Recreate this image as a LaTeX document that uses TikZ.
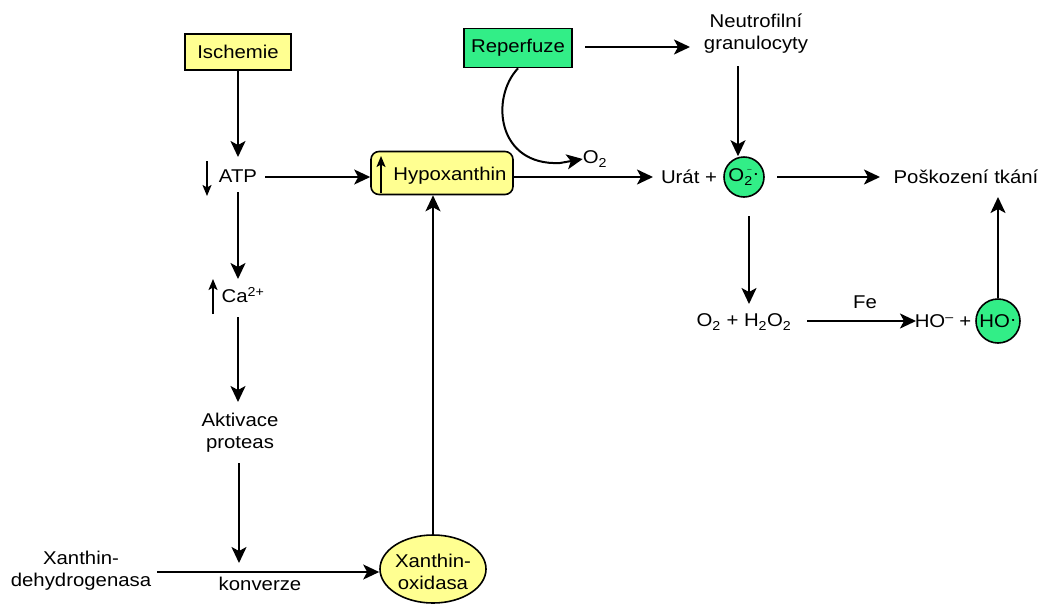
\documentclass[tikz,border=0pt]{standalone}
\usepackage{fontspec}
\setmainfont[FakeStretch=1.1]{Liberation Sans}
\usetikzlibrary{arrows.meta,shapes.geometric}
\definecolor{ylw}{RGB}{255,255,145}
\definecolor{grn}{RGB}{50,238,135}
\begin{document}
\begin{tikzpicture}[x=1pt,y=-1pt,
  every node/.style={font=\fontsize{18.5}{22}\selectfont, inner sep=0pt, align=center},
  arr/.style={line width=2pt, -{Stealth[length=16pt,width=15pt,inset=4pt]}},
  updown/.style={line width=1.6pt, -{Stealth[length=11pt,width=9pt,inset=2.5pt]}},
  ybox/.style={draw, line width=1.6pt, fill=ylw},
  gbox/.style={draw, line width=1.6pt, fill=grn},
  gcirc/.style={draw, circle, line width=1.6pt, fill=grn, minimum size=40pt}]
\useasboundingbox (0,0) rectangle (1046,603);
% nodes
\node[ybox, minimum width=106pt, minimum height=36pt] (isch) at (238,52) {Ischemie};
\node[gbox, minimum width=108pt, minimum height=39pt] (reper) at (518,48) {Reperfuze};
\node (neut) at (756,34) {Neutrofilní\\granulocyty};
\node (atp) at (238,176) {ATP};
\node[ybox, rounded corners=8pt, minimum width=142pt, minimum height=43pt] (hypo) at (442,173) {};
\node (hypot) at (450,176) {Hypoxanthin};
\node (o2) at (595,159) {O\textsubscript{2}};
\node (urat) at (689,177) {Urát +};
\node[gcirc] (o2m) at (744,177) {O\rlap{\raisebox{1.05ex}{\,\scriptsize –}}\textsubscript{2}\raisebox{0.2ex}{·}};
\node (pos) at (966,177) {Poškození tkání};
\node (ca) at (243,295) {Ca\textsuperscript{2+}};
\node (akt) at (240,433) {Aktivace\\proteas};
\node (xdh) at (81,571) {Xanthin-\\dehydrogenasa};
\node (konv) at (260,584) {konverze};
\node[draw, ellipse, line width=1.6pt, fill=ylw, minimum width=106pt, minimum height=68pt] (xo) at (433,569) {};
\node at (433,572) {Xanthin-\\oxidasa};
\node (h2o2) at (744,322) {O\textsubscript{2} + H\textsubscript{2}O\textsubscript{2}};
\node (fe) at (865,302) {Fe};
\node (hom) at (943,321) {HO\textsuperscript{–} +};
\node[gcirc, minimum size=44pt] (hoc) at (998,321) {HO\raisebox{0.2ex}{·}};
% small up/down markers
\coordinate (atpA) at (207,161);
\coordinate (atpB) at (207,196);
\draw[updown] (atpA) -- (atpB);
\coordinate (hypA) at (381,193);
\coordinate (hypB) at (381,156);
\draw[updown] (hypA) -- (hypB);
\coordinate (caA) at (213,314);
\coordinate (caB) at (213,279);
\draw[updown] (caA) -- (caB);
% connectors
\draw[arr] (isch.south) -- (isch.south |- 0,157);
\draw[arr] (265,177) -- (hypo.west |- 0,177);
\draw[arr] (hypo.east |- 0,177) -- (653,177);
\draw[arr] (238,192) -- (238,279);
\draw[arr] (238,317) -- (238,402);
\coordinate (kv) at (239,563);
\draw[arr] (239,463) -- (kv);
\draw[arr] (157,572) -- (xo.west |- 0,572);
\draw[arr] (xo.north) -- (xo.north |- hypo.south);
\draw[arr] (585,47) -- (690,47);
\draw[arr] (738,66) -- (o2m.north -| 738,0);
\draw[arr] (reper.south) .. controls (490,98) and (497,166) .. (560,163) -- (o2.west);
\draw[arr] (777,177) -- (880,177);
\draw[arr] (749,216) -- (749,304);
\draw[arr] (807,321) -- (916,321);
\draw[arr] (hoc.north) -- (hoc.north |- 0,197);
\end{tikzpicture}
\end{document}
